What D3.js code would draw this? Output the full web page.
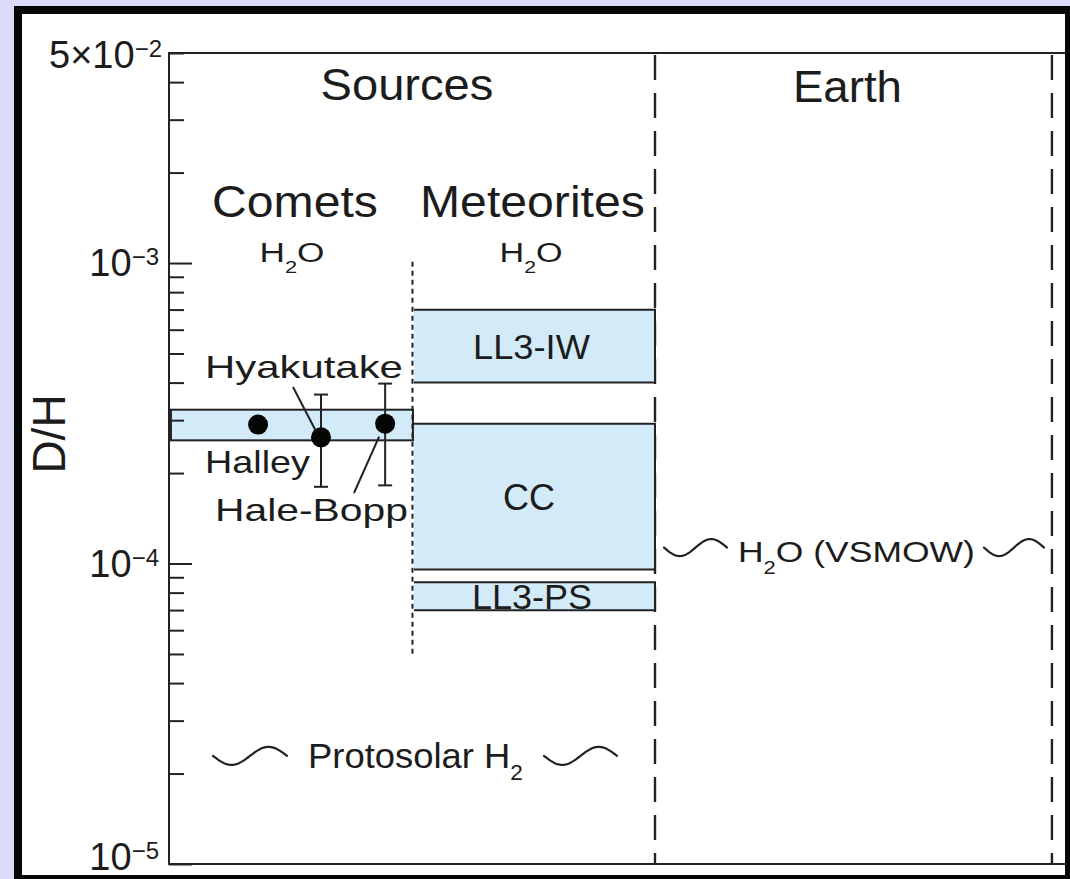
<!DOCTYPE html>
<html><head><meta charset="utf-8">
<script src="https://cdn.jsdelivr.net/npm/d3@7"></script>
<style>
html,body{margin:0;padding:0;background:#dcdcfa;}
svg{display:block;}
text{font-family:"Liberation Sans",Arial,Helvetica,sans-serif;fill:#1c1c1c;}
</style></head><body>
<svg id="chart" width="1070" height="879"></svg>
<script>
// ---------------- data ----------------
const yTickValues = [1e-5, 1e-4, 1e-3, 5e-3];
const yTickBase   = ["10", "10", "10", "5×10"];
const yTickExp    = ["−5", "−4", "−3", "−2"];
const yAxisLabel  = "D/H";

const sectionNames  = ["Sources", "Earth"];
const sectionBounds = [[0, 2], [2, 3.64]];      // x units
const groupNames    = ["Comets", "Meteorites"];
const groupSpecies  = ["H", "H"];                // + subscript 2 + O
const groupBounds   = [0, 1, 2];                 // x units

const boxLabels = ["", "LL3-IW", "CC", "LL3-PS"];
const boxGroup  = [0, 1, 1, 1];
const boxLow    = [2.57e-4, 4.00e-4, 9.56e-5, 6.99e-5];
const boxHigh   = [3.25e-4, 6.99e-4, 2.92e-4, 8.66e-5];

const cometNames   = ["Halley", "Hyakutake", "Hale-Bopp"];
const cometX       = [0.36, 0.62, 0.885];
const cometDH      = [2.90e-4, 2.63e-4, 2.92e-4];
const cometErrLow  = [null, 1.80e-4, 1.82e-4];
const cometErrHigh = [null, 3.65e-4, 3.97e-4];

const refNames  = ["VSMOW", "Protosolar H"];
const refValues = [1.13e-4, 2.29e-5];

const meteoriteRange = [4.88e-5, 1.01e-3];   // dotted divider extent
const earthEdge = 3.64;

// ---------------- setup ----------------
const W = 1070, H = 879;
const svg = d3.select("#chart");
const ink = "#222";

svg.append("rect").attr("width", W).attr("height", H).attr("fill", "#dcdcfa");
svg.append("rect").attr("x", 14).attr("y", 6).attr("width", W).attr("height", H).attr("fill", "#060606");
svg.append("rect").attr("x", 22).attr("y", 14).attr("width", 1065 - 22).attr("height", 875 - 14).attr("fill", "#fff");

const y = d3.scaleLog().domain([1e-5, 5e-3]).range([864, 53]);
const x = d3.scaleLinear().domain([-0.008, 3.694]).range([169, 1065]);
const [yBot, yTop] = y.range();
const [xL, xR] = x.range();

// rich text helper: parts = [[str, kind]], fitted to [x0,x1], baseline yb
function richText(parent, parts, size, x0, x1, yb, subDy) {
  const g = parent.append("g");
  const t = g.append("text").attr("x", 0).attr("y", 0).attr("font-size", size);
  let shift = 0;
  parts.forEach(([str, kind]) => {
    const target = kind === "sub" ? (subDy || 0.38) * size : kind === "sup" ? -0.3 * size : 0;
    const ts = t.append("tspan").text(str).attr("dy", target - shift);
    if (kind) ts.attr("font-size", size * 0.62);
    shift = target;
  });
  const bb = t.node().getBBox();
  const s = (x1 - x0) / bb.width;
  g.attr("transform", `translate(${x0 - bb.x * s},${yb}) scale(${s},1)`);
  return g;
}
function wave(parent, x0, x1, yc, amp) {
  const pts = d3.range(0, 61).map(i => {
    const t = i / 60;
    return [x0 + t * (x1 - x0), yc + amp * Math.sin(2 * Math.PI * t)];
  });
  parent.append("path").attr("d", d3.line()(pts))
    .attr("fill", "none").attr("stroke", ink).attr("stroke-width", 2.2)
    .attr("stroke-linecap", "round").attr("stroke-linejoin", "round");
}

// ---------------- dividers ----------------
[2, earthEdge].forEach(v => {
  svg.append("line").attr("x1", x(v)).attr("x2", x(v)).attr("y1", yTop + 2).attr("y2", yBot)
    .attr("stroke", ink).attr("stroke-width", 2.4).attr("stroke-dasharray", "25,13");
});

// ---------------- boxes ----------------
boxLabels.forEach((lab, i) => {
  const g = boxGroup[i];
  const x0 = x(groupBounds[g]) + (g > 0 ? 1 : 0), x1 = x(groupBounds[g + 1]);
  const y0 = y(boxHigh[i]), y1 = y(boxLow[i]);
  const w = x1 - x0, h = y1 - y0;
  const r = svg.append("rect").attr("x", x0).attr("y", y0).attr("width", w).attr("height", h)
    .attr("fill", "#d3eaf8").attr("stroke", ink).attr("stroke-width", 2);
  if (g > 0) r.attr("stroke-dasharray", `${2 * w + h} ${h}`);
});

// dotted divider between comets and meteorites
svg.append("line").attr("x1", x(1) - 0.5).attr("x2", x(1) - 0.5)
  .attr("y1", y(meteoriteRange[1])).attr("y2", y(meteoriteRange[0]))
  .attr("stroke", ink).attr("stroke-width", 2).attr("stroke-dasharray", "5,4");

// box labels
const boxShift = [0, -2.5, -5, -2];
const boxLabW = [0, 117, 52, 120];
boxLabels.forEach((lab, i) => {
  if (!lab) return;
  const g = boxGroup[i];
  const cx = (x(groupBounds[g]) + x(groupBounds[g + 1])) / 2 + boxShift[i];
  const cy = (y(boxHigh[i]) + y(boxLow[i])) / 2;
  richText(svg, [[lab, ""]], 36, cx - boxLabW[i] / 2, cx + boxLabW[i] / 2, cy + 13);
});

// ---------------- axes ----------------
svg.append("path").attr("d", `M${xR},${yTop}H${xL}V${yBot}H${xR}`)
  .attr("fill", "none").attr("stroke", ink).attr("stroke-width", 2);

const allTicks = y.ticks();
const majors = allTicks.filter(v => Math.abs(Math.log10(v) - Math.round(Math.log10(v))) < 1e-9);
const minors = allTicks.filter(v => !majors.includes(v));
const axMaj = svg.append("g").attr("transform", `translate(${xL},0)`)
  .call(d3.axisRight(y).tickValues(majors).tickSize(23).tickFormat(""));
const axMin = svg.append("g").attr("transform", `translate(${xL},0)`)
  .call(d3.axisRight(y).tickValues(minors).tickSize(15).tickFormat(""));
[axMaj, axMin].forEach(a => {
  a.select(".domain").remove();
  a.selectAll("line").attr("stroke", ink).attr("stroke-width", 2);
});

// tick labels
yTickValues.forEach((v, i) => {
  const right = i === 3 ? 162 : 159;
  const yb = i === 3 ? y(v) + 15 : i === 0 ? y(v) + 6 : y(v) + 13;
  const t = svg.append("text").attr("x", right).attr("y", yb)
    .attr("text-anchor", "end").attr("font-size", 38);
  t.append("tspan").text(yTickBase[i]);
  t.append("tspan").text(yTickExp[i]).attr("font-size", 24).attr("dy", -11);
});

// y axis title
svg.append("text").attr("transform", `translate(65,434) rotate(-90)`)
  .attr("text-anchor", "middle").attr("font-size", 46).text(yAxisLabel);

// ---------------- headings ----------------
const secW = [173, 109], secY = [100, 102];
sectionNames.forEach((s, i) => {
  const cx = (x(sectionBounds[i][0]) + x(sectionBounds[i][1])) / 2 - 6;
  richText(svg, [[s, ""]], 44, cx - secW[i] / 2, cx + secW[i] / 2, secY[i]);
});
const grpW = [166, 225], grpShift = [3, -1.5], spW = [65, 63], spShift = [0, -3];
groupNames.forEach((s, i) => {
  const cx = (x(groupBounds[i]) + x(groupBounds[i + 1])) / 2;
  const c1 = cx + grpShift[i];
  richText(svg, [[s, ""]], 44, c1 - grpW[i] / 2, c1 + grpW[i] / 2, 217);
  const c2 = cx + spShift[i];
  richText(svg, [[groupSpecies[i], ""], ["2", "sub"], ["O", ""]], 28, c2 - spW[i] / 2, c2 + spW[i] / 2, 262);
});

// ---------------- comets ----------------
cometNames.forEach((n, i) => {
  const cx = x(cometX[i]);
  if (cometErrLow[i] != null) {
    const yl = y(cometErrLow[i]), yh = y(cometErrHigh[i]);
    svg.append("line").attr("x1", cx).attr("x2", cx).attr("y1", yh).attr("y2", yl)
      .attr("stroke", ink).attr("stroke-width", 2);
    [yl, yh].forEach(yy => svg.append("line").attr("x1", cx - 7).attr("x2", cx + 7)
      .attr("y1", yy).attr("y2", yy).attr("stroke", ink).attr("stroke-width", 2));
  }
  svg.append("circle").attr("cx", cx).attr("cy", y(cometDH[i])).attr("r", 10).attr("fill", "#050505");
});
// comet labels & leaders (layout in pixels relative to points)
{
  const pH = [x(cometX[1]), y(cometDH[1])];
  const pB = [x(cometX[2]), y(cometDH[2])];
  richText(svg, [[cometNames[1], ""]], 32, 205, 403, 378);
  richText(svg, [[cometNames[0], ""]], 32, 205, 310, 473);
  richText(svg, [[cometNames[2], ""]], 32, 215, 408, 521);
  svg.append("line").attr("x1", 293).attr("y1", 387).attr("x2", pH[0] - 5).attr("y2", pH[1] - 6)
    .attr("stroke", ink).attr("stroke-width", 2);
  svg.append("line").attr("x1", 354).attr("y1", 493).attr("x2", pB[0] - 6).attr("y2", pB[1] + 13)
    .attr("stroke", ink).attr("stroke-width", 2);
}

// ---------------- reference levels ----------------
{
  const yv = y(refValues[0]);
  wave(svg, 664, 727, yv, 8.5);
  richText(svg, [["H", ""], ["2", "sub"], ["O (", ""], [refNames[0], ""], [")", ""]], 30, 738, 975, yv + 14, 0.4);
  wave(svg, 984, 1044, yv, 8.5);

  const yp = y(refValues[1]);
  wave(svg, 213, 287, yp, 9);
  richText(svg, [[refNames[1], ""], ["2", "sub"]], 35, 308, 523, yp + 12, 0.34);
  wave(svg, 544, 617, yp, 9);
}
</script>
</body></html>
